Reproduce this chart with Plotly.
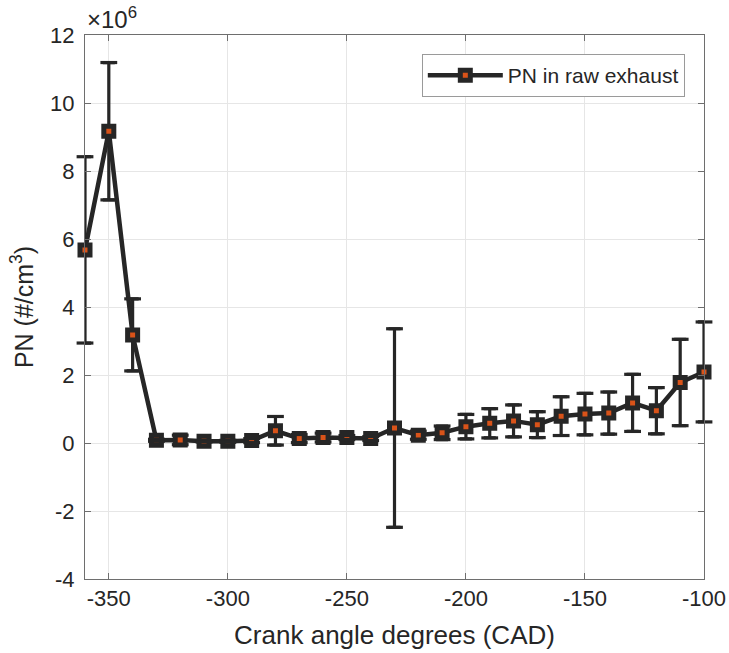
import plotly.graph_objects as go

# Crank angle (CAD)
cad = [-360, -350, -340, -330, -320, -310, -300, -290, -280, -270, -260, -250, -240,
       -230, -220, -210, -200, -190, -180, -170, -160, -150, -140, -130, -120, -110, -100]
# PN in raw exhaust, units of 10^6 #/cm^3
pn = [5.68, 9.17, 3.18, 0.08, 0.09, 0.05, 0.05, 0.07, 0.36, 0.13, 0.16, 0.16, 0.13,
      0.44, 0.23, 0.30, 0.48, 0.58, 0.65, 0.54, 0.79, 0.85, 0.88, 1.18, 0.95, 1.78, 2.09]
# error (± one std), units of 10^6 #/cm^3
pn_err = [2.74, 2.02, 1.06, 0.03, 0.14, 0.02, 0.03, 0.06, 0.42, 0.12, 0.13, 0.06, 0.06,
          2.92, 0.12, 0.20, 0.36, 0.43, 0.47, 0.38, 0.57, 0.61, 0.62, 0.84, 0.68, 1.27, 1.47]

x_tick_vals = [-350, -300, -250, -200, -150, -100]
x_tick_labels = ["-350", "-300", "-250", "-200", "-150", "-100"]
y_tick_vals = [-4, -2, 0, 2, 4, 6, 8, 10, 12]
y_tick_labels = ["-4", "-2", "0", "2", "4", "6", "8", "10", "12"]

DARK = "#262626"
ORANGE = "#D95319"
FONT = "Arial, Liberation Sans, sans-serif"

fig = go.Figure()
fig.add_trace(go.Scatter(
    x=cad, y=pn, mode="lines+markers", name="PN in raw exhaust",
    line=dict(color=DARK, width=4.5),
    marker=dict(symbol="square", size=10, color=ORANGE, line=dict(color=DARK, width=5)),
    error_y=dict(type="data", array=pn_err, visible=True, color=DARK, thickness=3.2, width=6),
    cliponaxis=False,
))
# error-bar caps drawn on top of the markers (as in the original rendering)
cap_x = cad + cad
cap_y = [p + e for p, e in zip(pn, pn_err)] + [p - e for p, e in zip(pn, pn_err)]
fig.add_trace(go.Scatter(
    x=cap_x, y=cap_y, mode="markers", showlegend=False, hoverinfo="skip",
    marker=dict(symbol="line-ew", size=12, color=DARK, line=dict(color=DARK, width=3.2)),
    cliponaxis=False,
))

axis_common = dict(
    showline=True, linecolor="#6e6e6e", linewidth=1, mirror="allticks",
    ticks="inside", ticklen=6, tickcolor="#6e6e6e", tickwidth=1,
    showgrid=True, gridcolor="#e6e6e6", gridwidth=1, zeroline=False,
    tickfont=dict(family=FONT, size=22, color=DARK),
)

fig.update_layout(
    width=729, height=653,
    margin=dict(l=85, r=25, t=35, b=74),
    plot_bgcolor="white", paper_bgcolor="white",
    font=dict(family=FONT, color=DARK),
    xaxis=dict(range=[-360, -100], tickvals=x_tick_vals, ticktext=x_tick_labels,
               title=dict(text="Crank angle degrees (CAD)", font=dict(family=FONT, size=26, color=DARK), standoff=15),
               automargin=False, **axis_common),
    yaxis=dict(range=[-4, 12], tickvals=y_tick_vals, ticktext=y_tick_labels,
               title=dict(text="PN (#/cm<sup>3</sup>)", font=dict(family=FONT, size=25, color=DARK), standoff=9),
               ticklabelstandoff=5,
               automargin=False, **axis_common),
    legend=dict(x=0.969, y=0.965, xanchor="right", yanchor="top",
                bgcolor="white", bordercolor="#9a9a9a", borderwidth=1,
                itemwidth=75,
                font=dict(family=FONT, size=21, color=DARK)),
    annotations=[dict(text="×10<sup>6</sup>", xref="paper", yref="paper", x=0.0, y=1.0,
                      xanchor="left", yanchor="bottom", showarrow=False,
                      font=dict(family=FONT, size=24, color=DARK))],
)

fig.write_html("out.html")
